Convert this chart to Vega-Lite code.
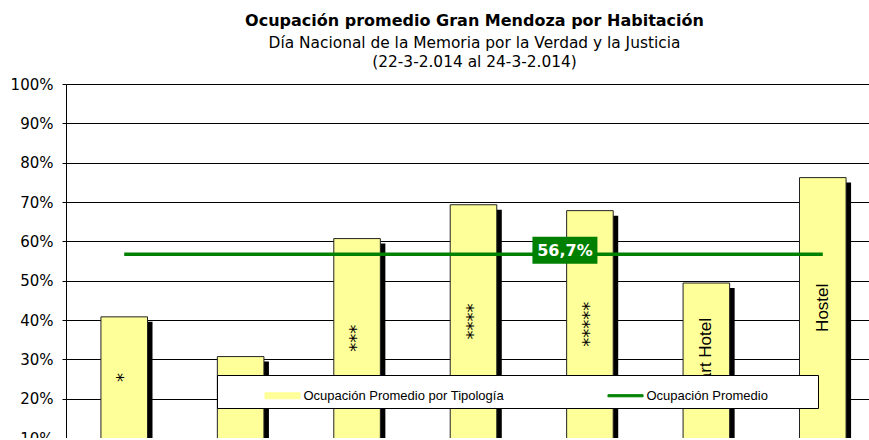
{
  "$schema": "https://vega.github.io/schema/vega-lite/v6.json",
  "autosize": {"type": "none"},
  "padding": {"left": 66, "top": 84, "right": 0, "bottom": 0},
  "width": 803,
  "height": 354,
  "background": "white",
  "config": {
    "view": {"stroke": null},
    "axisY": {
      "values": [0.1, 0.2, 0.3, 0.4, 0.5, 0.6, 0.7, 0.8, 0.9, 1.0],
      "format": ".0%",
      "title": null,
      "labelFont": "DejaVu Sans",
      "labelFontSize": 15,
      "labelColor": "black",
      "labelPadding": 9,
      "labelOverlap": false,
      "labelFlush": false,
      "labelBound": false,
      "tickSize": 4,
      "tickColor": "black",
      "domainColor": "black",
      "grid": true,
      "gridColor": "black",
      "gridOpacity": 1,
      "gridWidth": 1
    },
    "legend": {
      "orient": "none",
      "legendX": 151,
      "legendY": 291,
      "direction": "horizontal",
      "titleOrient": "right",
      "titlePadding": 45,
      "titleFont": "Liberation Sans",
      "titleFontSize": 13,
      "padding": 5,
      "fillColor": "white",
      "strokeColor": "black",
      "symbolSize": 900,
      "symbolOffset": 45,
      "symbolStrokeWidth": 1,
      "labelOffset": 5.5,
      "columnPadding": 61,
      "labelFont": "Liberation Sans",
      "labelFontSize": 13,
      "labelColor": "black",
      "labelLimit": 500
    }
  },
  "title": {
    "text": "Ocupación promedio Gran Mendoza por Habitación",
    "subtitle": ["Día Nacional de la Memoria por la Verdad y la Justicia", "(22-3-2.014 al 24-3-2.014)"],
    "anchor": "middle",
    "frame": "group",
    "dx": 7,
    "font": "DejaVu Sans",
    "fontSize": 16,
    "fontWeight": "bold",
    "color": "black",
    "subtitleFont": "DejaVu Sans",
    "subtitleFontSize": 15.4,
    "subtitleColor": "black",
    "subtitleLineHeight": 19,
    "subtitlePadding": 7,
    "offset": 7
  },
  "data": {
    "values": [
      {"tipo": "*", "valor": 0.408, "promedio": 0.567},
      {"tipo": "**", "valor": 0.307, "promedio": 0.567},
      {"tipo": "***", "valor": 0.607, "promedio": 0.567},
      {"tipo": "****", "valor": 0.693, "promedio": 0.567},
      {"tipo": "*****", "valor": 0.678, "promedio": 0.567},
      {"tipo": "Apart Hotel", "valor": 0.494, "promedio": 0.567},
      {"tipo": "Hostel", "valor": 0.762, "promedio": 0.567}
    ]
  },
  "encoding": {
    "x": {
      "field": "tipo",
      "type": "nominal",
      "sort": null,
      "axis": null,
      "scale": {"range": [0, 815], "paddingInner": 0.6, "paddingOuter": 0.3}
    }
  },
  "layer": [
    {
      "mark": {"type": "bar", "color": "black", "xOffset": 5, "yOffset": 5, "clip": false},
      "encoding": {
        "y": {
          "field": "valor",
          "type": "quantitative",
          "scale": {"domain": [0.1, 1], "zero": false, "nice": false}
        },
        "y2": {"datum": 0}
      }
    },
    {
      "mark": {"type": "bar", "stroke": "#222222", "strokeWidth": 1},
      "encoding": {
        "y": {"field": "valor", "type": "quantitative"},
        "y2": {"datum": 0},
        "color": {
          "datum": "Ocupación Promedio por Tipología",
          "type": "nominal",
          "scale": {"domain": ["Ocupación Promedio por Tipología", "Ocupación Promedio"], "range": ["#FFFF99", "#008000"]},
          "legend": {
            "title": "\u00a0",
            "encode": {
              "symbols": {
                "update": {
                  "shape": {"signal": "datum.value === 'Ocupación Promedio' ? 'M-1.17,-0.07L1.17,-0.07L1.17,0.07L-1.17,0.07Z' : 'M-1.17,-0.2L1.17,-0.2L1.17,0.2L-1.17,0.2Z'"},
                  "fill": {"signal": "datum.value === 'Ocupación Promedio' ? '#008000' : '#FFFF99'"},
                  "stroke": {"signal": "datum.value === 'Ocupación Promedio' ? '#008000' : '#000000'"},
                  "strokeWidth": {"value": 1},
                  "fillOpacity": {"value": 1},
                  "strokeOpacity": {"value": 1},
                  "opacity": {"value": 1}
                }
              }
            }
          }
        }
      }
    },
    {
      "transform": [
        {"filter": "indexof(datum.tipo, '*') >= 0"},
        {"calculate": "(datum.valor + 0.1) / 2", "as": "medio"}
      ],
      "mark": {"type": "text", "angle": 270, "font": "DejaVu Sans", "fontSize": 18, "color": "black", "baseline": "middle", "align": "center"},
      "encoding": {
        "y": {"field": "medio", "type": "quantitative"},
        "text": {"field": "tipo"}
      }
    },
    {
      "transform": [
        {"filter": "indexof(datum.tipo, '*') < 0"},
        {"calculate": "(datum.valor + 0.1) / 2", "as": "medio"}
      ],
      "mark": {"type": "text", "angle": 270, "font": "Liberation Sans", "fontSize": 17, "color": "black", "baseline": "middle", "align": "center"},
      "encoding": {
        "y": {"field": "medio", "type": "quantitative"},
        "text": {"field": "tipo"}
      }
    },
    {
      "mark": {"type": "line", "strokeWidth": 3.5},
      "encoding": {
        "y": {"field": "promedio", "type": "quantitative"},
        "color": {
          "datum": "Ocupación Promedio",
          "type": "nominal",
          "legend": {
            "title": "\u00a0",
            "encode": {
              "symbols": {
                "update": {
                  "shape": {"signal": "datum.value === 'Ocupación Promedio' ? 'M-1.17,-0.07L1.17,-0.07L1.17,0.07L-1.17,0.07Z' : 'M-1.17,-0.2L1.17,-0.2L1.17,0.2L-1.17,0.2Z'"},
                  "fill": {"signal": "datum.value === 'Ocupación Promedio' ? '#008000' : '#FFFF99'"},
                  "stroke": {"signal": "datum.value === 'Ocupación Promedio' ? '#008000' : '#000000'"},
                  "strokeWidth": {"value": 1},
                  "fillOpacity": {"value": 1},
                  "strokeOpacity": {"value": 1},
                  "opacity": {"value": 1}
                }
              }
            }
          }
        }
      }
    },
    {
      "data": {"values": [{"tipo": "*****", "promedio": 0.567, "etiqueta": "56,7%"}]},
      "mark": {"type": "point", "filled": true, "color": "#008000", "opacity": 1, "strokeWidth": 0, "size": 4225, "shape": "M-1,-0.415L1,-0.415L1,0.415L-1,0.415Z", "xOffset": -25, "yOffset": -4},
      "encoding": {
        "y": {"field": "promedio", "type": "quantitative"}
      }
    },
    {
      "data": {"values": [{"tipo": "*****", "promedio": 0.567, "etiqueta": "56,7%"}]},
      "mark": {"type": "text", "font": "DejaVu Sans", "fontSize": 16, "fontWeight": "bold", "color": "white", "xOffset": -25, "yOffset": -3, "baseline": "middle", "align": "center"},
      "encoding": {
        "y": {"field": "promedio", "type": "quantitative"},
        "text": {"field": "etiqueta"}
      }
    }
  ]
}
